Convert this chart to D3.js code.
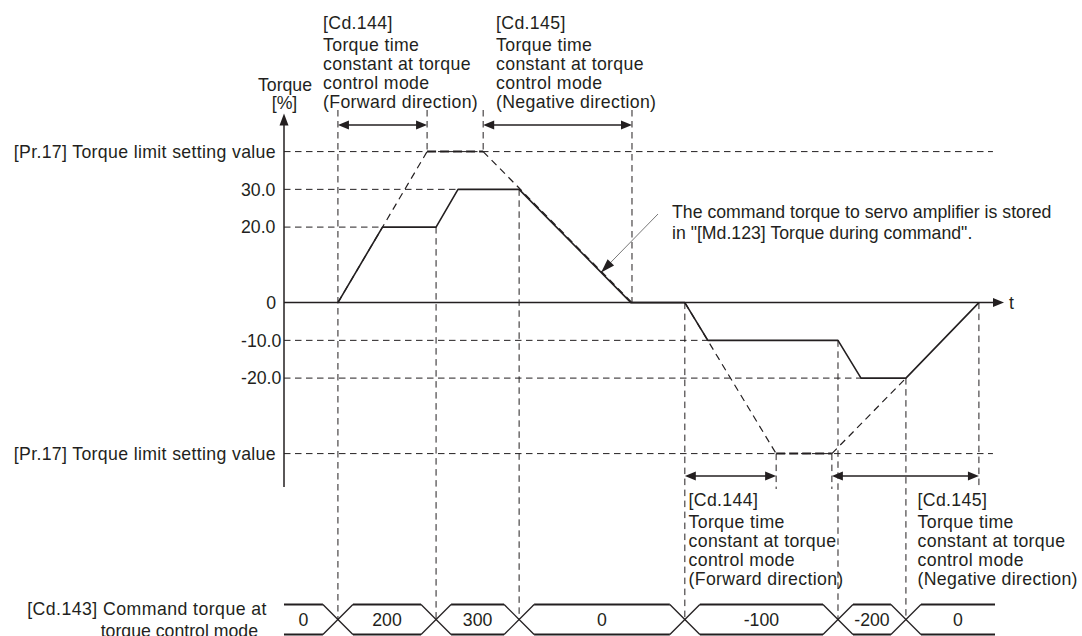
<!DOCTYPE html>
<html>
<head>
<meta charset="utf-8">
<script src="https://cdn.jsdelivr.net/npm/d3@7"></script>
<style>
  html, body { margin: 0; padding: 0; background: #fff; }
  svg { display: block; }
  text { font-family: "Liberation Sans", Arial, Helvetica, sans-serif; font-size: 17.7px; fill: #231f20; }
  text.wide { letter-spacing: 0.35px; }
</style>
</head>
<body>
<svg id="chart" width="1082" height="636"></svg>
<script>
// ---------------- DATA ----------------
// Torque levels [%] (limit = [Pr.17] torque limit setting value)
const torqueLimit = 40;
const tickValues = [40, 30, 20, 0, -10, -20, -40];
const tickLabels = ["[Pr.17] Torque limit setting value", "30.0", "20.0", "0", "-10.0", "-20.0", "[Pr.17] Torque limit setting value"];

// Command torque ([Cd.143]) changes: time of change and command values
const commandTimes = [15.0, 42.3, 65.4, 111.5, 154.1, 173.0];
const commandLabels = ["0", "200", "300", "0", "-100", "-200", "0"];
const commandTorque = [0, 20, 30, 0, -10, -20, 0];

// Torque during command (solid line) : time, torque
const actualTime   = [15.0, 27.4, 42.3, 48.4, 65.4, 96.5, 111.5, 117.9, 154.1, 160.5, 173.0, 193.3];
const actualTorque = [0,    20,   20,   30,   30,   0,    0,     -10,   -10,   -20,   -20,   0];

// Time-constant slopes (dashed, reaching the torque limit)
const fwdRampPos = [[15.0, 0], [39.8, 40]];
const limitFlatPos = [[39.8, 40], [55.4, 40]];
const negRampPos = [[55.4, 40], [96.8, 0]];
const fwdRampNeg = [[111.5, 0], [136.9, -40]];
const limitFlatNeg = [[136.9, -40], [152.4, -40]];
const negRampNeg = [[152.4, -40], [173.0, -20]];

// Time-constant spans shown with double arrows
const spanTop = [[15.0, 39.8], [55.4, 96.8]];
const spanBottom = [[111.5, 136.9], [152.4, 193.3]];
const spanTopText = [
  ["[Cd.144]", "Torque time", "constant at torque", "control mode", "(Forward direction)"],
  ["[Cd.145]", "Torque time", "constant at torque", "control mode", "(Negative direction)"]
];
const spanBottomText = spanTopText;

const noteText = ["The command torque to servo amplifier is stored", "in \"[Md.123] Torque during command\"."];
const cmdRowLabel = ["[Cd.143] Command torque at", "torque control mode"];

// ---------------- LAYOUT ----------------
const svg = d3.select("#chart");
const ink = "#231f20";
const x = d3.scaleLinear().domain([0, 200]).range([284, 1003]);
const y = d3.scaleLinear().domain([-torqueLimit, torqueLimit]).range([453.6, 151.6]);
const axisX = x(0);
const rowTop = 604.5, rowBot = 634.5, rowMid = (rowTop + rowBot) / 2;
const rowStart = 284, rowEnd = 995, half = 15;
const gridEnd = x(197.2);

function dashed(x1, y1, x2, y2, dash, w) {
  svg.append("line").attr("x1", x1).attr("y1", y1).attr("x2", x2).attr("y2", y2)
    .attr("stroke", ink).attr("stroke-width", w || 1).attr("stroke-dasharray", dash || "6,4");
}
function tri(tipX, tipY, dx, dy, len, wid) {
  const L = Math.hypot(dx, dy), ux = dx / L, uy = dy / L;
  const bx = tipX - ux * len, by = tipY - uy * len;
  const px = -uy * wid / 2, py = ux * wid / 2;
  svg.append("path").attr("d", `M${tipX},${tipY}L${bx + px},${by + py}L${bx - px},${by - py}Z`).attr("fill", ink);
}
function dblArrow(x1, x2, yy) {
  svg.append("line").attr("x1", x1 + 4).attr("x2", x2 - 4).attr("y1", yy).attr("y2", yy)
    .attr("stroke", ink).attr("stroke-width", 1.3);
  tri(x1, yy, -1, 0, 11, 9);
  tri(x2, yy, 1, 0, 11, 9);
}

// ---- horizontal dashed guides ----
const guideEnds = { "40": gridEnd, "30": x(48.4), "20": x(27.4), "0": null, "-10": x(117.9), "-20": x(160.5), "-40": gridEnd };
tickValues.forEach(v => {
  const e = guideEnds[String(v)];
  if (e) dashed(axisX, y(v), e, y(v), "6.5,4.5", 1);
});

// ---- vertical dashed guides ----
const vGuides = [
  [commandTimes[0], 110, rowMid],
  [spanTop[0][1], 110, y(40)],
  [spanTop[1][0], 110, y(40)],
  [spanTop[1][1], 110, y(0)],
  [commandTimes[1], y(20), rowMid],
  [commandTimes[2], y(30), rowMid],
  [commandTimes[3], y(0), rowMid],
  [spanBottom[0][1], y(-40), 489],
  [spanBottom[1][0], y(-40), 489],
  [commandTimes[4], y(-10), rowMid],
  [commandTimes[5], y(-20), rowMid],
  [spanBottom[1][1], y(0), 489]
];
vGuides.forEach(g => dashed(x(g[0]), g[1], x(g[0]), g[2], "6.5,4.5", 1));

// ---- dashed time-constant slopes ----
const ln = d3.line().x(d => x(d[0])).y(d => y(d[1]));
[fwdRampPos, negRampPos, fwdRampNeg, negRampNeg].forEach(seg => {
  svg.append("path").attr("d", ln(seg)).attr("fill", "none").attr("stroke", ink)
    .attr("stroke-width", 1.2).attr("stroke-dasharray", "7,5");
});
[limitFlatPos, limitFlatNeg].forEach(seg => {
  svg.append("path").attr("d", ln(seg)).attr("fill", "none").attr("stroke", ink)
    .attr("stroke-width", 2).attr("stroke-dasharray", "9,4");
});

// ---- axes ----
svg.append("line").attr("x1", axisX).attr("x2", axisX).attr("y1", 487).attr("y2", 123)
  .attr("stroke", ink).attr("stroke-width", 1.5);
tri(axisX, 113.5, 0, -1, 12, 9);
svg.append("line").attr("x1", axisX).attr("x2", 994).attr("y1", y(0)).attr("y2", y(0))
  .attr("stroke", ink).attr("stroke-width", 1.5);
tri(1004, y(0), 1, 0, 11, 9);
svg.append("text").attr("x", 1009).attr("y", y(0) + 6).text("t");
svg.append("text").attr("x", 285).attr("y", 91).attr("text-anchor", "middle").text("Torque");
svg.append("text").attr("x", 284.5).attr("y", 108.5).attr("text-anchor", "middle").text("[%]");

// ---- y labels ----
tickValues.forEach((v, i) => {
  const lab = tickLabels[i];
  const t = svg.append("text").attr("y", y(v) + 6.3).text(lab);
  if (lab.startsWith("[")) t.attr("class", "wide").attr("x", 276).attr("text-anchor", "end");
  else if (v === 0) t.attr("x", 276).attr("text-anchor", "end");
  else t.attr("x", 241).attr("text-anchor", "start");
});

// ---- torque during command (solid) ----
svg.append("path").attr("d", ln(actualTime.map((t, i) => [t, actualTorque[i]])))
  .attr("fill", "none").attr("stroke", ink).attr("stroke-width", 1.6).attr("stroke-linejoin", "round");

// ---- double arrows + annotation texts ----
const offs = [0, 22, 41, 60, 79];
spanTop.forEach(s => dblArrow(x(s[0]), x(s[1]), 125));
spanBottom.forEach(s => dblArrow(x(s[0]), x(s[1]), 476));
[323, 496].forEach((lx, i) => {
  spanTopText[i].forEach((t, j) => svg.append("text").attr("class", "wide").attr("x", lx).attr("y", 29 + offs[j]).text(t));
});
[688.5, 917.5].forEach((lx, i) => {
  spanBottomText[i].forEach((t, j) => svg.append("text").attr("class", "wide").attr("x", lx).attr("y", 505.5 + offs[j]).text(t));
});

// ---- note with leader ----
const tipT = 88.2, tipX = x(tipT);
const tipY = y(30 - (tipT - 65.4) / (96.5 - 65.4) * 30);
svg.append("line").attr("x1", 658).attr("y1", 214).attr("x2", tipX + 5).attr("y2", tipY - 5.2)
  .attr("stroke", "#555").attr("stroke-width", 0.8);
tri(tipX, tipY, tipX - 658, tipY - 214, 14, 9);
noteText.forEach((t, j) => svg.append("text").attr("x", 672).attr("y", 217.5 + j * 21.5).text(t));

// ---- command torque row ----
const bounds = [rowStart].concat(commandTimes.map(t => x(t))).concat([rowEnd]);
const row = svg.append("g").attr("fill", "none").attr("stroke", ink);
for (let i = 0; i < bounds.length - 1; i++) {
  const a = i === 0 ? bounds[i] : bounds[i] + half;
  const b = i === bounds.length - 2 ? bounds[i + 1] : bounds[i + 1] - half;
  row.append("line").attr("x1", a).attr("x2", b).attr("y1", rowTop).attr("y2", rowTop).attr("stroke-width", 1.8);
  row.append("line").attr("x1", a).attr("x2", b).attr("y1", rowBot).attr("y2", rowBot).attr("stroke-width", 1.8);
  svg.append("text").attr("x", (a + b) / 2).attr("y", rowMid + 6.3).attr("text-anchor", "middle").text(commandLabels[i]);
}
commandTimes.forEach(t => {
  const c = x(t);
  row.append("line").attr("x1", c - half).attr("y1", rowTop).attr("x2", c + half).attr("y2", rowBot).attr("stroke-width", 1.3);
  row.append("line").attr("x1", c - half).attr("y1", rowBot).attr("x2", c + half).attr("y2", rowTop).attr("stroke-width", 1.3);
});
svg.append("text").attr("x", 267).attr("y", 614.5).attr("text-anchor", "end").style("letter-spacing", "0.45px").text(cmdRowLabel[0]);
svg.append("text").attr("x", 258).attr("y", 636.5).attr("text-anchor", "end").text(cmdRowLabel[1]);
</script>
</body>
</html>
